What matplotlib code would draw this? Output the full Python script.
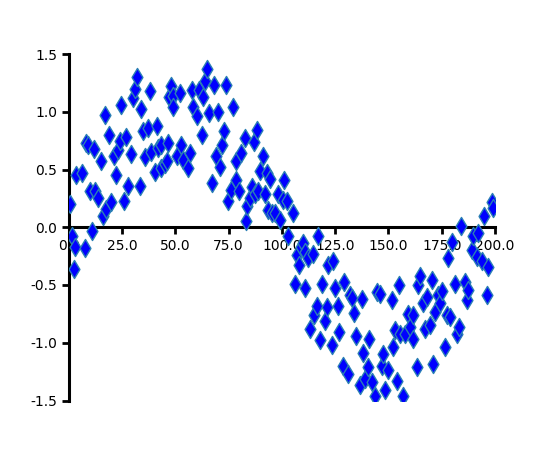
import matplotlib
matplotlib.use("Agg")
import matplotlib.pyplot as plt
from matplotlib.ticker import FormatStrFormatter

# points
x_vals = [0.5, 1.3, 2.5, 2.8, 3.6, 6.0, 7.5, 8.3, 9.1, 9.9, 10.9, 11.9, 12.5, 13.8,
          15.3, 16.1, 16.9, 17.7, 18.8, 20.0, 21.3, 22.4, 23.1, 23.9, 24.7, 26.0,
          26.8, 27.9, 29.4, 30.2, 31.0, 32.2, 33.3, 33.8, 34.9, 35.7, 37.2, 38.0,
          38.8, 40.4, 41.2, 41.9, 43.2, 43.5, 45.1, 45.9, 46.6, 47.0, 48.0, 49.0,
          49.0, 50.6, 52.1, 52.9, 53.7, 56.0, 56.8, 57.6, 58.4, 60.2, 61.2, 62.3,
          63.1, 63.8, 65.1, 65.9, 67.3, 68.1, 69.3, 70.1, 70.9, 71.7, 72.9, 73.7,
          74.8, 76.1, 77.1, 78.4, 78.7, 80.0, 80.8, 82.6, 83.1, 83.7, 85.0, 85.8,
          87.0, 87.3, 88.1, 88.9, 89.7, 91.2, 92.0, 92.8, 93.6, 94.4, 95.2, 96.7,
          98.3, 99.1, 100.6, 101.1, 102.2, 103.0, 105.3, 106.1, 106.9, 108.1,
          109.2, 110.0, 110.8, 110.8, 112.3, 113.1, 114.7, 115.2, 116.3, 117.0,
          117.8, 118.9, 120.2, 121.4, 121.7, 123.3, 124.1, 124.9, 126.1, 126.8,
          128.8, 129.2, 131.1, 131.9, 133.0, 133.9, 134.6, 136.6, 137.4, 138.2,
          139.0, 140.2, 140.8, 142.1, 143.7, 144.5, 146.0, 146.8, 147.6, 148.4,
          149.9, 151.5, 152.0, 153.1, 153.9, 155.1, 155.4, 157.0, 157.7, 159.3,
          160.1, 161.4, 161.6, 163.2, 164.0, 164.8, 166.4, 167.1, 167.9, 169.5,
          170.3, 171.0, 171.8, 173.4, 174.2, 175.0, 176.5, 177.3, 178.1, 178.9,
          179.7, 181.2, 182.3, 183.3, 183.9, 185.9, 186.7, 187.5, 189.1, 189.8,
          191.4, 192.2, 193.8, 195.0, 196.1, 196.9, 198.4, 198.9]
y_vals = [0.205, -0.08, -0.36, -0.17, 0.45, 0.47, -0.18, 0.73, 0.71, 0.31, -0.03, 0.68,
          0.31, 0.25, 0.57, 0.10, 0.97, 0.16, 0.80, 0.22, 0.62, 0.45, 0.67, 0.75,
          1.06, 0.23, 0.78, 0.36, 0.63, 1.12, 1.20, 1.30, 0.36, 1.02, 0.83, 0.61,
          0.86, 1.18, 0.65, 0.48, 0.88, 0.69, 0.51, 0.71, 0.55, 0.57, 0.73, 1.13,
          1.22, 1.14, 1.04, 0.62, 1.16, 0.71, 0.58, 0.51, 0.64, 1.19, 1.04, 0.96,
          1.19, 0.80, 1.13, 1.27, 1.37, 0.99, 0.38, 1.23, 0.62, 1.00, 0.52, 0.71,
          0.83, 1.23, 0.23, 0.32, 1.04, 0.41, 0.57, 0.31, 0.64, 0.77, 0.05, 0.18,
          0.25, 0.35, 0.74, 0.29, 0.84, 0.31, 0.49, 0.62, 0.29, 0.47, 0.15, 0.42,
          0.12, 0.12, 0.29, 0.06, 0.24, 0.41, 0.23, -0.08, 0.12, -0.49, -0.24,
          -0.33, -0.17, -0.14, -0.21, -0.53, -0.27, -0.88, -0.23, -0.76, -0.68,
          -0.08, -0.98, -0.49, -0.81, -0.69, -0.33, -1.02, -0.29, -0.53, -0.68,
          -0.91, -1.20, -0.47, -1.27, -0.59, -0.61, -0.74, -0.94, -1.37, -0.62,
          -1.09, -1.31, -1.21, -0.97, -1.34, -1.46, -0.56, -0.58, -1.20, -1.10,
          -1.41, -1.24, -0.63, -1.04, -0.89, -1.33, -0.50, -0.92, -1.46, -0.92,
          -0.75, -0.86, -0.97, -0.76, -1.21, -0.50, -0.42, -0.66, -0.88, -0.60,
          -0.85, -0.46, -1.18, -0.73, -0.59, -0.66, -0.55, -1.04, -0.76, -0.27,
          -0.78, -0.13, -0.49, -0.92, -0.86, 0.01, -0.47, -0.63, -0.54, -0.20,
          -0.08, -0.26, -0.05, -0.29, 0.10, -0.59, -0.34, 0.22, 0.17]

plt.rcParams['axes.unicode_minus'] = False

fig, ax = plt.subplots(figsize=(5.5, 4.5), dpi=100)
ax.scatter(x_vals, y_vals, marker='d', s=85, c='#0000ff',
           edgecolors='#2a7fb5', linewidths=1.0, zorder=3)

ax.set_xlim(0, 200)
ax.set_ylim(-1.5, 1.5)
ax.set_xticks([0, 25, 50, 75, 100, 125, 150, 175, 200])
ax.set_yticks([-1.5, -1.0, -0.5, 0.0, 0.5, 1.0, 1.5])
ax.xaxis.set_major_formatter(FormatStrFormatter('%.1f'))
ax.yaxis.set_major_formatter(FormatStrFormatter('%.1f'))

# axes through the origin
ax.spines['left'].set_position(('data', 0))
ax.spines['bottom'].set_position(('data', 0))
ax.spines['top'].set_visible(False)
ax.spines['right'].set_visible(False)
for side in ['left', 'bottom']:
    ax.spines[side].set_linewidth(2.2)
ax.tick_params(width=2, length=5, labelsize=10)

fig.savefig("out.png")
